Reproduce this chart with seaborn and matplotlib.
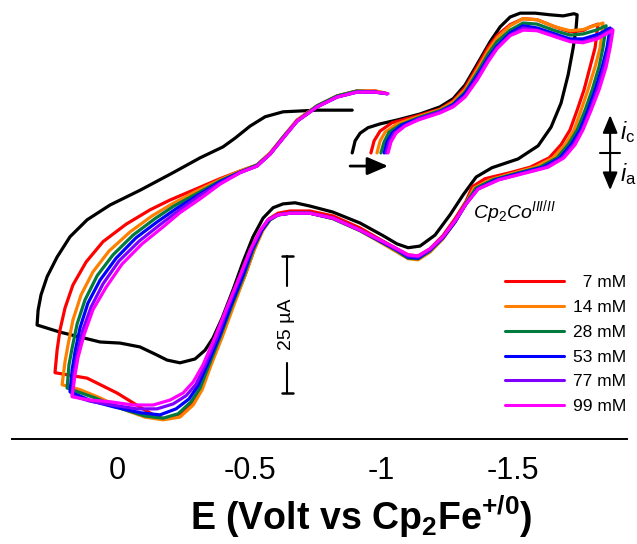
import pandas as pd
import seaborn as sns
import matplotlib.pyplot as plt
from matplotlib.lines import Line2D

# cyclic voltammograms, E in V vs Cp2Fe+/0, current in uA (cathodic up)
cv_blank = [
    (-0.889, 0.0), (-0.900, 2.2), (-0.919, 3.6), (-0.949, 4.6), (-0.995, 5.3), (-1.059, 6.0),
    (-1.146, 7.1), (-1.222, 8.4), (-1.272, 9.9), (-1.317, 12.4), (-1.363, 16.2), (-1.412, 20.3),
    (-1.450, 23.0), (-1.488, 24.8), (-1.526, 25.5), (-1.583, 25.5), (-1.639, 25.2), (-1.689, 25.0),
    (-1.730, 25.4), (-1.742, 25.2), (-1.738, 22.8), (-1.727, 19.2), (-1.708, 14.3), (-1.681, 9.1),
    (-1.643, 4.7), (-1.594, 1.3), (-1.518, -1.1), (-1.419, -2.7), (-1.359, -4.4), (-1.309, -7.7),
    (-1.260, -11.3), (-1.203, -15.0), (-1.146, -17.0), (-1.101, -17.3), (-1.059, -16.6),
    (-1.006, -15.1), (-0.919, -12.8), (-0.816, -10.8), (-0.729, -9.7), (-0.672, -9.1),
    (-0.627, -9.3), (-0.589, -10.0), (-0.551, -11.9), (-0.513, -15.3), (-0.475, -19.9),
    (-0.437, -25.0), (-0.396, -30.1), (-0.361, -33.8), (-0.331, -36.0), (-0.293, -37.6),
    (-0.236, -38.3), (-0.187, -37.8), (-0.141, -36.7), (-0.084, -35.4), (-0.009, -34.7),
    (0.067, -34.5), (0.143, -33.6), (0.219, -32.7), (0.306, -31.4), (0.302, -28.7), (0.291, -25.9),
    (0.268, -22.6), (0.230, -19.0), (0.181, -15.3), (0.116, -12.2), (0.029, -9.5), (-0.085, -6.8),
    (-0.210, -3.6), (-0.312, -0.9), (-0.399, 1.1), (-0.445, 2.7), (-0.502, 4.9), (-0.559, 6.6),
    (-0.627, 7.5), (-0.756, 7.8), (-0.889, 7.8),
]

cv_7 = [
    (-0.960, 0.0), (-0.972, 2.2), (-0.995, 4.0), (-1.040, 5.5), (-1.139, 6.8), (-1.222, 8.0),
    (-1.272, 9.5), (-1.317, 11.9), (-1.363, 15.7), (-1.404, 19.2), (-1.438, 21.4), (-1.488, 23.4),
    (-1.537, 24.5), (-1.590, 24.3), (-1.658, 23.0), (-1.715, 22.1), (-1.764, 22.3), (-1.791, 23.0),
    (-1.821, 23.5),
    (-1.810, 19.2), (-1.791, 15.7), (-1.768, 11.5), (-1.742, 7.8), (-1.715, 4.2), (-1.681, 1.5),
    (-1.636, -0.9), (-1.564, -2.6), (-1.488, -3.6), (-1.393, -4.7), (-1.344, -6.2), (-1.321, -8.8),
    (-1.279, -12.0), (-1.233, -15.1), (-1.184, -17.5), (-1.139, -18.8), (-1.101, -18.6),
    (-1.059, -17.5), (-1.006, -16.1), (-0.919, -13.7), (-0.816, -11.5), (-0.729, -10.6),
    (-0.653, -10.6), (-0.608, -11.0), (-0.574, -12.0), (-0.547, -14.1), (-0.517, -17.7),
    (-0.483, -22.3), (-0.437, -27.7), (-0.392, -33.6), (-0.350, -38.7), (-0.316, -43.1),
    (-0.282, -45.8), (-0.236, -47.6), (-0.179, -48.5), (-0.149, -48.2), (-0.085, -46.4),
    (0.003, -43.8), (0.116, -41.1), (0.238, -40.1),
    (0.230, -36.0), (0.219, -32.3), (0.200, -28.3), (0.170, -24.1), (0.120, -19.9), (0.056, -16.2),
    (-0.032, -13.0), (-0.122, -10.4), (-0.198, -8.6), (-0.286, -6.8), (-0.388, -4.7),
    (-0.464, -3.3), (-0.528, -2.2), (-0.578, 0.0), (-0.627, 2.9), (-0.680, 6.0), (-0.756, 8.6),
    (-0.832, 10.4), (-0.907, 11.3), (-0.976, 11.3), (-1.014, 10.9),
]

cv_14 = [
    (-0.983, 0.0), (-0.995, 2.2), (-1.014, 3.8), (-1.059, 5.3), (-1.139, 6.6), (-1.222, 7.9),
    (-1.272, 9.3), (-1.317, 11.5), (-1.363, 15.2), (-1.404, 18.6), (-1.438, 21.0), (-1.488, 23.2),
    (-1.537, 24.5), (-1.590, 24.3), (-1.658, 23.0), (-1.715, 22.3), (-1.764, 22.5), (-1.806, 23.2),
    (-1.840, 23.7),
    (-1.829, 19.2), (-1.810, 15.7), (-1.783, 11.5), (-1.757, 7.8), (-1.730, 4.2), (-1.696, 1.5),
    (-1.651, -0.9), (-1.582, -2.6), (-1.506, -3.6), (-1.412, -4.9), (-1.351, -6.4), (-1.321, -9.1),
    (-1.279, -12.6), (-1.233, -15.7), (-1.184, -18.1), (-1.139, -19.5), (-1.101, -19.3),
    (-1.059, -18.1), (-1.006, -16.6), (-0.919, -14.2), (-0.816, -12.0), (-0.729, -11.0),
    (-0.653, -11.0), (-0.608, -11.3), (-0.578, -12.2), (-0.551, -14.1), (-0.517, -17.7),
    (-0.483, -22.3), (-0.441, -27.7), (-0.396, -33.6), (-0.354, -38.7), (-0.320, -43.2),
    (-0.286, -46.0), (-0.236, -48.2), (-0.172, -48.7), (-0.103, -48.2), (-0.028, -46.9),
    (0.067, -44.7), (0.143, -43.2), (0.211, -42.3),
    (0.200, -38.1), (0.188, -34.9), (0.170, -30.5), (0.139, -25.9), (0.094, -21.7), (0.033, -17.9),
    (-0.047, -14.4), (-0.130, -11.5), (-0.206, -9.3), (-0.293, -7.1), (-0.388, -4.9),
    (-0.464, -3.3), (-0.528, -2.2), (-0.578, 0.0), (-0.627, 2.9), (-0.680, 6.0), (-0.756, 8.6),
    (-0.832, 10.4), (-0.907, 11.3), (-0.976, 11.3), (-1.018, 10.9),
]

cv_28 = [
    (-0.998, 0.0), (-1.010, 2.0), (-1.029, 3.8), (-1.071, 5.1), (-1.139, 6.4), (-1.222, 7.7),
    (-1.272, 8.9), (-1.317, 11.1), (-1.363, 14.6), (-1.404, 18.0), (-1.438, 20.3), (-1.488, 22.4),
    (-1.537, 23.7), (-1.590, 23.5), (-1.658, 22.3), (-1.715, 21.5), (-1.764, 21.7), (-1.814, 22.4),
    (-1.852, 23.2),
    (-1.840, 19.2), (-1.825, 15.7), (-1.799, 11.5), (-1.772, 7.8), (-1.742, 4.2), (-1.708, 1.5),
    (-1.666, -0.9), (-1.601, -2.6), (-1.522, -3.6), (-1.423, -4.9), (-1.359, -6.4), (-1.321, -9.1),
    (-1.279, -12.6), (-1.233, -15.5), (-1.184, -17.9), (-1.139, -19.3), (-1.101, -19.2),
    (-1.059, -17.9), (-1.006, -16.4), (-0.919, -14.2), (-0.816, -12.0), (-0.729, -11.0),
    (-0.653, -11.0), (-0.608, -11.3), (-0.578, -12.2), (-0.547, -14.1), (-0.513, -17.7),
    (-0.479, -22.3), (-0.434, -27.7), (-0.388, -33.6), (-0.346, -38.7), (-0.312, -42.9),
    (-0.278, -45.4), (-0.229, -47.6), (-0.172, -48.4), (-0.103, -48.0), (-0.016, -46.7),
    (0.086, -44.7), (0.192, -42.9),
    (0.185, -38.7), (0.173, -35.6), (0.154, -31.2), (0.124, -26.8), (0.078, -22.4), (0.018, -18.6),
    (-0.058, -15.0), (-0.141, -12.0), (-0.213, -9.7), (-0.297, -7.5), (-0.388, -5.1),
    (-0.464, -3.5), (-0.528, -2.2), (-0.578, -0.2), (-0.627, 2.9), (-0.680, 5.8), (-0.756, 8.6),
    (-0.832, 10.4), (-0.907, 11.3), (-0.976, 11.1), (-1.021, 10.8),
]

cv_53 = [
    (-1.010, 0.0), (-1.021, 2.0), (-1.040, 3.6), (-1.078, 5.1), (-1.139, 6.2), (-1.222, 7.5),
    (-1.272, 8.8), (-1.317, 10.8), (-1.363, 14.1), (-1.404, 17.3), (-1.438, 19.5), (-1.488, 21.9),
    (-1.537, 23.2), (-1.590, 22.8), (-1.658, 21.7), (-1.715, 20.8), (-1.764, 20.8), (-1.825, 21.7),
    (-1.867, 22.8),
    (-1.855, 19.2), (-1.837, 15.7), (-1.810, 11.5), (-1.783, 7.8), (-1.753, 4.2), (-1.719, 1.5),
    (-1.677, -0.9), (-1.613, -2.6), (-1.533, -3.6), (-1.434, -4.9), (-1.363, -6.6), (-1.321, -9.3),
    (-1.279, -12.6), (-1.233, -15.5), (-1.184, -17.7), (-1.139, -19.2), (-1.101, -19.0),
    (-1.059, -17.7), (-1.006, -16.4), (-0.919, -14.1), (-0.816, -11.9), (-0.729, -11.0),
    (-0.653, -11.0), (-0.608, -11.3), (-0.574, -12.2), (-0.547, -14.1), (-0.509, -17.7),
    (-0.475, -22.3), (-0.430, -27.7), (-0.384, -33.6), (-0.339, -38.7), (-0.304, -42.5),
    (-0.270, -44.9), (-0.221, -46.7), (-0.160, -47.8), (-0.085, -47.4), (0.010, -46.4),
    (0.097, -45.3), (0.181, -43.6),
    (0.173, -39.6), (0.162, -36.3), (0.143, -31.9), (0.113, -27.4), (0.067, -23.2), (0.006, -19.2),
    (-0.069, -15.5), (-0.149, -12.6), (-0.221, -10.2), (-0.301, -7.8), (-0.388, -5.3),
    (-0.464, -3.5), (-0.528, -2.4), (-0.578, -0.2), (-0.627, 2.7), (-0.680, 5.8), (-0.756, 8.4),
    (-0.832, 10.2), (-0.907, 11.1), (-0.976, 11.1), (-1.021, 10.8),
]

cv_77 = [
    (-1.018, 0.0), (-1.029, 2.0), (-1.048, 3.6), (-1.086, 4.9), (-1.139, 6.2), (-1.222, 7.5),
    (-1.272, 8.6), (-1.317, 10.4), (-1.363, 13.7), (-1.404, 17.0), (-1.438, 19.2), (-1.488, 21.5),
    (-1.537, 22.8), (-1.590, 22.4), (-1.658, 21.4), (-1.715, 20.4), (-1.764, 20.3), (-1.829, 21.2),
    (-1.874, 22.6),
    (-1.863, 19.2), (-1.844, 15.7), (-1.818, 11.5), (-1.791, 7.8), (-1.761, 4.2), (-1.727, 1.5),
    (-1.685, -0.9), (-1.624, -2.6), (-1.545, -3.6), (-1.442, -4.9), (-1.366, -6.6), (-1.321, -9.3),
    (-1.279, -12.4), (-1.233, -15.3), (-1.184, -17.7), (-1.139, -19.0), (-1.101, -18.8),
    (-1.059, -17.7), (-1.006, -16.2), (-0.919, -14.1), (-0.816, -11.9), (-0.729, -11.0),
    (-0.653, -11.0), (-0.608, -11.3), (-0.570, -12.2), (-0.543, -14.1), (-0.506, -17.7),
    (-0.468, -22.3), (-0.422, -27.7), (-0.377, -33.6), (-0.331, -38.7), (-0.297, -42.2),
    (-0.259, -44.3), (-0.210, -45.8), (-0.149, -46.7), (-0.073, -46.7), (0.022, -46.0),
    (0.105, -45.3), (0.173, -44.3),
    (0.166, -40.0), (0.154, -36.9), (0.135, -32.7), (0.101, -28.1), (0.056, -23.9), (-0.005, -19.7),
    (-0.081, -16.1), (-0.160, -13.1), (-0.229, -10.6), (-0.304, -8.0), (-0.388, -5.5),
    (-0.464, -3.6), (-0.528, -2.4), (-0.578, -0.2), (-0.627, 2.7), (-0.680, 5.8), (-0.756, 8.4),
    (-0.832, 10.2), (-0.907, 11.1), (-0.976, 11.1), (-1.021, 10.8),
]

cv_99 = [
    (-1.025, 0.0), (-1.036, 2.0), (-1.055, 3.6), (-1.089, 4.9), (-1.139, 6.0), (-1.222, 7.3),
    (-1.272, 8.4), (-1.317, 10.2), (-1.363, 13.3), (-1.404, 16.6), (-1.438, 19.0), (-1.488, 21.4),
    (-1.537, 22.4), (-1.590, 22.3), (-1.658, 21.2), (-1.715, 20.3), (-1.764, 20.1), (-1.818, 20.8),
    (-1.859, 21.9), (-1.878, 22.4),
    (-1.867, 19.2), (-1.852, 15.7), (-1.825, 11.5), (-1.795, 7.8), (-1.764, 4.2), (-1.734, 1.5),
    (-1.692, -0.9), (-1.632, -2.6), (-1.552, -3.6), (-1.446, -4.9), (-1.366, -6.6), (-1.321, -9.3),
    (-1.279, -12.4), (-1.233, -15.3), (-1.184, -17.5), (-1.139, -18.8), (-1.101, -18.6),
    (-1.059, -17.5), (-1.006, -16.2), (-0.919, -14.1), (-0.816, -11.9), (-0.729, -11.0),
    (-0.653, -11.0), (-0.608, -11.3), (-0.570, -12.2), (-0.540, -14.1), (-0.502, -17.7),
    (-0.464, -22.3), (-0.418, -27.7), (-0.369, -33.6), (-0.323, -38.7), (-0.286, -41.8),
    (-0.248, -43.8), (-0.198, -45.1), (-0.134, -46.0), (-0.058, -46.0), (0.029, -45.4),
    (0.105, -45.1), (0.173, -44.5),
    (0.162, -40.5), (0.151, -37.4), (0.128, -33.2), (0.094, -28.6), (0.044, -24.5), (-0.016, -20.3),
    (-0.092, -16.6), (-0.172, -13.5), (-0.236, -10.9), (-0.312, -8.4), (-0.388, -5.7),
    (-0.464, -3.6), (-0.528, -2.4), (-0.578, -0.2), (-0.627, 2.7), (-0.680, 5.8), (-0.756, 8.4),
    (-0.832, 10.2), (-0.907, 11.1), (-0.976, 11.1), (-1.025, 10.8),
]

conc_labels = ['  7 mM', '14 mM', '28 mM', '53 mM', '77 mM', '99 mM']
conc_curves = [cv_7, cv_14, cv_28, cv_53, cv_77, cv_99]
conc_colors = ['#ff0000', '#ff8000', '#007a3d', '#0000ff', '#8000ff', '#ff00ff']
xticks = [0, -0.5, -1, -1.5]
xtick_labels = ['0', '-0.5', '-1', '-1.5']

sns.set_style('white')
plt.rcParams['font.family'] = ['Liberation Sans', 'DejaVu Sans']
plt.rcParams['text.color'] = 'black'
plt.rcParams['xtick.color'] = 'black'
plt.rcParams['axes.edgecolor'] = 'black'
plt.rcParams['mathtext.fontset'] = 'custom'
plt.rcParams['mathtext.rm'] = 'Liberation Sans'
plt.rcParams['mathtext.it'] = 'Liberation Sans:italic'
plt.rcParams['mathtext.bf'] = 'Liberation Sans:bold'

df = pd.concat(
    [pd.DataFrame(cv, columns=['E', 'i']).assign(conc=lab)
     for lab, cv in zip(conc_labels, conc_curves)],
    ignore_index=True)
blank = pd.DataFrame(cv_blank, columns=['E', 'i'])

fig = plt.figure(figsize=(6.37, 5.44), dpi=100)
ax = fig.add_axes([12 / 637, 1 - 439 / 544, 615 / 637, 439 / 544])

sns.lineplot(data=blank, x='E', y='i', sort=False, estimator=None,
             color='black', lw=2.3, ax=ax)
sns.lineplot(data=df, x='E', y='i', hue='conc', hue_order=conc_labels,
             palette=conc_colors, sort=False, estimator=None, lw=2.3,
             legend=False, ax=ax)

ax.set_xlim(0.401, -1.931)
ax.set_ylim(-52.2, 27.9)
for s in ['left', 'right', 'top']:
    ax.spines[s].set_visible(False)
ax.spines['bottom'].set_linewidth(1.4)
ax.spines['bottom'].set_color('black')
ax.set_yticks([])
ax.set_xticks(xticks)
ax.set_xticklabels(xtick_labels, fontsize=22, color='black')
ax.tick_params(axis='x', direction='out', length=4, width=1.2, pad=8, colors='black')
ax.set_xlabel('')
ax.set_ylabel('')

fig.text(0.567, 0.050, r'E (Volt vs Cp$_{\mathbf{2}}$Fe$^{\mathbf{+/0}}$)',
         fontsize=27, fontweight='bold', ha='center', va='center', color='black')

# sweep direction arrow
ax.annotate('', xy=(-1.025, -2.4), xytext=(-0.881, -2.4),
            arrowprops=dict(arrowstyle='-|>,head_length=0.7,head_width=0.3',
                            color='black', lw=2, shrinkA=0, shrinkB=0,
                            mutation_scale=18))

# current direction marker
ax.annotate('', xy=(-1.867, -6.8), xytext=(-1.867, 6.9),
            arrowprops=dict(arrowstyle='<|-|>,head_length=0.6,head_width=0.25',
                            color='black', lw=1.5, shrinkA=0, shrinkB=0,
                            mutation_scale=18))
ax.plot([-1.829, -1.905], [0, 0], color='black', lw=1.5)
ax.text(-1.903, 3.8, r'$i_{\mathrm{c}}$', fontsize=17, ha='left', va='center')
ax.text(-1.903, -3.8, r'$i_{\mathrm{a}}$', fontsize=17, ha='left', va='center')

ax.text(-1.506, -10.8, r'Cp$_2$Co$^{III/II}$', fontsize=14, style='italic',
        ha='center', va='center')

# 25 uA scale bar
ax.plot([-0.642, -0.642], [-18.8, -24.3], color='black', lw=1.5)
ax.plot([-0.642, -0.642], [-38.3, -43.8], color='black', lw=1.5)
ax.plot([-0.621, -0.663], [-18.8, -18.8], color='black', lw=1.8)
ax.plot([-0.621, -0.663], [-43.8, -43.8], color='black', lw=1.8)
ax.text(-0.638, -31.3, '25 µA', fontsize=14, rotation=90, ha='center', va='center')

handles = [Line2D([], [], color=c, lw=2.2) for c in conc_colors]
leg = ax.legend(handles, conc_labels, loc='upper right', bbox_to_anchor=(0.999, 0.374),
                frameon=False, fontsize=12.5, handlelength=3.4, handletextpad=0.5,
                labelspacing=0.56, borderpad=0, borderaxespad=0)
for t in leg.get_texts():
    t.set_color('black')

fig.savefig('out.png', dpi=100)
